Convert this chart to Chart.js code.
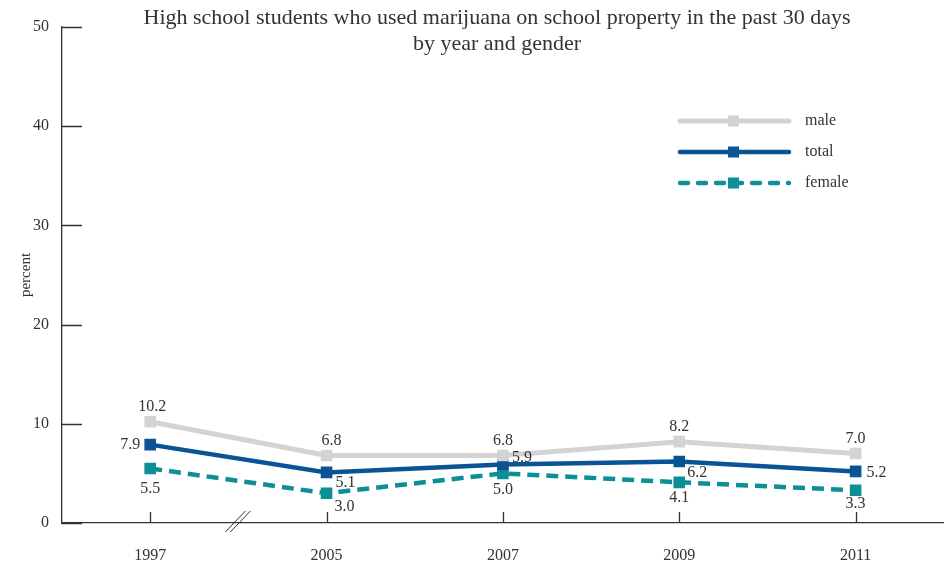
<!DOCTYPE html>
<html>
<head>
<meta charset="utf-8">
<script src="https://cdn.jsdelivr.net/npm/chart.js@4"></script>
<style>
  html, body { margin: 0; padding: 0; background: #fff; }
  #wrap { width: 952px; height: 567px; }
</style>
</head>
<body>
<div id="wrap"><canvas id="chart" width="952" height="567"></canvas></div>
<script>
var years = ["1997", "2005", "2007", "2009", "2011"];
var maleValues = [10.2, 6.8, 6.8, 8.2, 7.0];
var totalValues = [7.9, 5.1, 5.9, 6.2, 5.2];
var femaleValues = [5.5, 3.0, 5.0, 4.1, 3.3];
var yTicks = [0, 10, 20, 30, 40, 50];

var FONT = "'Liberation Serif', 'DejaVu Serif', serif";
var INK = '#333333';

// where each value label sits relative to its point: [dx, dy, align]
var labelPlacement = {
    male: [[2, -15, 'center'], [5, -15, 'center'], [0, -15, 'center'], [0, -15, 'center'], [0, -15, 'center']],
    total: [[-10, 0, 'right'], [9, 10, 'left'], [9, -7, 'left'], [8, 11, 'left'], [11, 1, 'left']],
    female: [[0, 20, 'center'], [8, 14, 'left'], [0, 16, 'center'], [0, 15, 'center'], [0, 14, 'center']]
};

var valueLabels = {
    id: 'valueLabels',
    afterDatasetsDraw: function (chart) {
        var ctx = chart.ctx;
        ctx.save();
        ctx.font = "16px " + FONT;
        ctx.fillStyle = INK;
        ctx.textBaseline = 'middle';
        chart.data.datasets.forEach(function (ds, i) {
            var meta = chart.getDatasetMeta(i);
            var place = labelPlacement[ds.label];
            meta.data.forEach(function (pt, j) {
                var p = place[j];
                ctx.textAlign = p[2];
                ctx.fillText(ds.data[j].toFixed(1), pt.x + p[0], pt.y + p[1]);
            });
        });
        ctx.restore();
    }
};

var extras = {
    id: 'extras',
    afterDraw: function (chart) {
        var ctx = chart.ctx;
        var area = chart.chartArea;
        var x = chart.scales.x, y = chart.scales.y;
        ctx.save();

        // title
        ctx.fillStyle = INK;
        ctx.font = "22px " + FONT;
        ctx.textAlign = 'center';
        ctx.textBaseline = 'middle';
        ctx.fillText("High school students who used marijuana on school property in the past 30 days", 497, 18);
        ctx.fillText("by year and gender", 497, 44);

        // inward tick marks
        ctx.strokeStyle = INK;
        ctx.lineWidth = 1.3;
        ctx.beginPath();
        yTicks.forEach(function (v) {
            var py = Math.round(y.getPixelForValue(v)) + 0.5;
            ctx.moveTo(area.left, py);
            ctx.lineTo(area.left + 20, py);
        });
        years.forEach(function (c, i) {
            var px = Math.round(x.getPixelForValue(i)) + 0.5;
            ctx.moveTo(px, area.bottom);
            ctx.lineTo(px, area.bottom - 11);
        });
        ctx.stroke();

        // axis break marks
        var bx = (x.getPixelForValue(0) + x.getPixelForValue(1)) / 2 - 1;
        ctx.lineWidth = 1;
        ctx.beginPath();
        ctx.moveTo(bx - 12, area.bottom + 9);
        ctx.lineTo(bx + 8, area.bottom - 12);
        ctx.moveTo(bx - 7, area.bottom + 9);
        ctx.lineTo(bx + 13, area.bottom - 12);
        ctx.stroke();

        // legend
        var legendY = [121, 152, 183];
        chart.data.datasets.forEach(function (ds, i) {
            var ly = legendY[i];
            ctx.strokeStyle = ds.borderColor;
            ctx.lineWidth = ds.borderWidth;
            ctx.lineCap = 'round';
            ctx.setLineDash(ds.borderDash ? [8, 10] : []);
            ctx.beginPath();
            ctx.moveTo(680, ly);
            ctx.lineTo(789, ly);
            ctx.stroke();
            ctx.setLineDash([]);
            ctx.fillStyle = ds.borderColor;
            ctx.fillRect(728, ly - 5.5, 11, 11);
            ctx.fillStyle = INK;
            ctx.font = "16px " + FONT;
            ctx.textAlign = 'left';
            ctx.fillText(ds.label, 805, ly);
        });
        ctx.restore();
    }
};

var ctx = document.getElementById("chart");

var chartGraph = new Chart(ctx, {
    type: 'line',
    data: {
        labels: years,
        datasets: [
            {
                label: "male",
                data: maleValues,
                borderColor: '#d3d3d3',
                backgroundColor: '#d3d3d3',
                borderWidth: 5,
                pointStyle: 'rect',
                pointRadius: 8.2,
                pointHoverRadius: 8.2,
                pointBorderWidth: 0,
                tension: 0
            },
            {
                label: "total",
                data: totalValues,
                borderColor: '#0a5495',
                backgroundColor: '#0a5495',
                borderWidth: 4.5,
                pointStyle: 'rect',
                pointRadius: 8.2,
                pointHoverRadius: 8.2,
                pointBorderWidth: 0,
                tension: 0
            },
            {
                label: "female",
                data: femaleValues,
                borderColor: '#0c8f97',
                backgroundColor: '#0c8f97',
                borderWidth: 4.5,
                borderDash: [12, 7],
                pointStyle: 'rect',
                pointRadius: 8.2,
                pointHoverRadius: 8.2,
                pointBorderWidth: 0,
                tension: 0
            }
        ]
    },
    plugins: [valueLabels, extras],
    options: {
        responsive: false,
        animation: false,
        layout: {
            padding: { top: 27, right: 8, left: 0, bottom: 0 }
        },
        plugins: {
            legend: { display: false },
            title: { display: false },
            tooltip: { enabled: false }
        },
        scales: {
            x: {
                type: 'category',
                offset: true,
                grid: { display: false, drawTicks: false },
                border: { display: true, color: INK, width: 1.3 },
                ticks: {
                    color: INK,
                    font: { family: FONT, size: 16 },
                    padding: 23,
                    maxRotation: 0
                },
                afterFit: function (scale) { scale.height = 44; }
            },
            y: {
                min: 0,
                max: 50,
                afterBuildTicks: function (scale) {
                    scale.ticks = yTicks.map(function (v) { return { value: v }; });
                },
                grid: { display: false, drawTicks: false },
                border: { display: true, color: INK, width: 1.3 },
                ticks: {
                    color: INK,
                    font: { family: FONT, size: 16 },
                    padding: 13
                },
                title: {
                    display: true,
                    text: "percent",
                    color: INK,
                    font: { family: FONT, size: 15 },
                    padding: { top: 17, bottom: 0 }
                },
                afterFit: function (scale) { scale.width = 62; }
            }
        }
    }
});
</script>
</body>
</html>
